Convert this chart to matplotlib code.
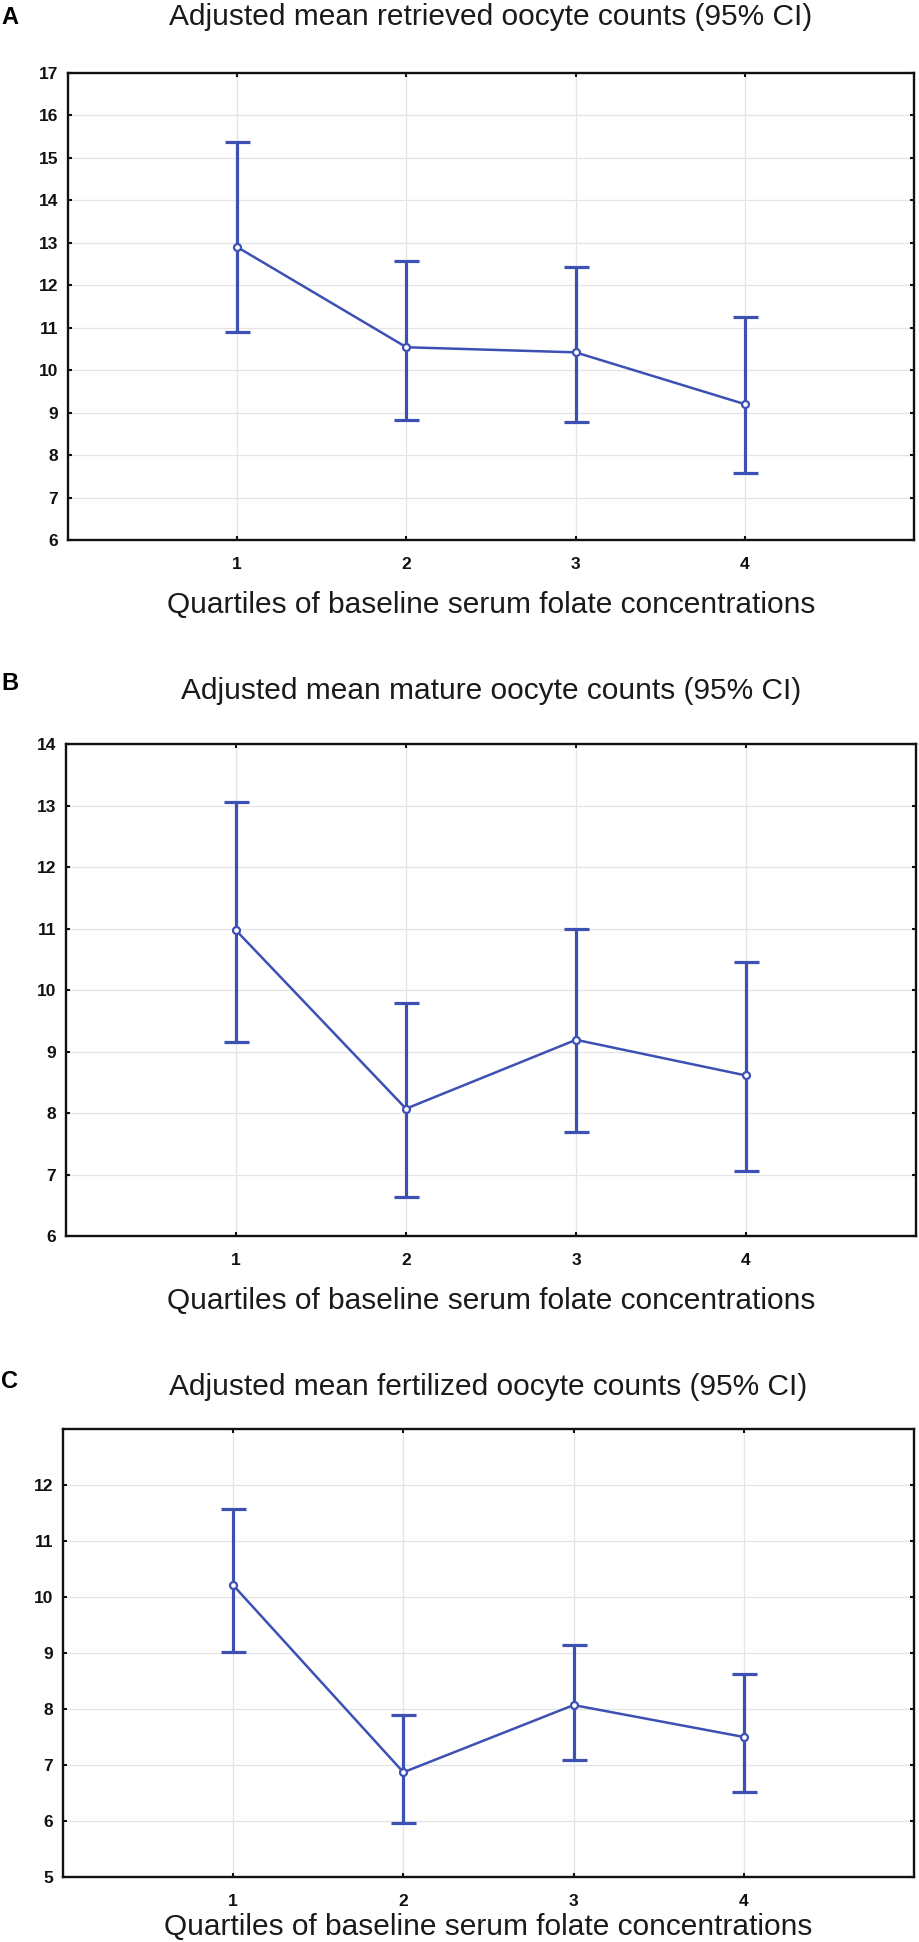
import numpy as np
import matplotlib
matplotlib.use("Agg")
import matplotlib.pyplot as plt

# quartile groups on the x axis
quartiles = [1, 2, 3, 4]

# A - retrieved oocytes: mean and 95% CI
a_mean = [12.9, 10.54, 10.42, 9.2]
a_low = [10.89, 8.82, 8.78, 7.58]
a_high = [15.37, 12.57, 12.42, 11.25]

# B - mature oocytes
b_mean = [10.97, 8.07, 9.19, 8.61]
b_low = [9.16, 6.64, 7.69, 7.06]
b_high = [13.05, 9.79, 10.99, 10.46]

# C - fertilized oocytes
c_mean = [10.21, 6.87, 8.07, 7.5]
c_low = [9.02, 5.97, 7.09, 6.51]
c_high = [11.57, 7.89, 9.15, 8.62]

titles = ["Adjusted mean retrieved oocyte counts (95% CI)",
          "Adjusted mean mature oocyte counts (95% CI)",
          "Adjusted mean fertilized oocyte counts (95% CI)"]
panel_letters = ["A", "B", "C"]
xlab = "Quartiles of baseline serum folate concentrations"

W, H = 920, 1942
BLUE = "#3d50b4"

fig = plt.figure(figsize=(W / 100, H / 100), dpi=100)
fig.patch.set_facecolor("white")


def px_axes(left, top, right, bottom):
    return fig.add_axes([left / W, 1 - bottom / H, (right - left) / W, (bottom - top) / H])


def draw_panel(ax, mean, low, high, ylim, yticks):
    mean = np.array(mean)
    err = [mean - np.array(low), np.array(high) - mean]
    ax.errorbar(quartiles, mean, yerr=err, fmt="none", ecolor=BLUE,
                elinewidth=2.3, capsize=9, capthick=2.3, zorder=3)
    ax.plot(quartiles, mean, color=BLUE, lw=1.8, marker="o", ms=5,
            mfc="white", mec=BLUE, mew=1.6, zorder=4)
    ax.set_xlim(0, 5)
    ax.set_ylim(*ylim)
    ax.set_xticks(quartiles)
    ax.set_yticks(yticks)
    ax.grid(True, color="#e4e4e4", lw=0.9, zorder=0)
    ax.set_axisbelow(True)
    for s in ax.spines.values():
        s.set_linewidth(1.7)
        s.set_color("#111111")
    ax.tick_params(direction="in", length=3, width=1.5, top=True, right=True,
                   labelsize=12.5, colors="#111111")
    ax.tick_params(axis="y", pad=7)
    ax.tick_params(axis="x", pad=12)
    for lab in ax.get_xticklabels() + ax.get_yticklabels():
        lab.set_fontweight("bold")
        lab.set_family("Liberation Sans")


# axes boxes in pixels: left, top, right, bottom
boxes = [(68, 73, 914, 540), (66, 744, 916, 1236), (63, 1429, 914, 1877)]
title_base = [25, 699, 1395]
xlab_base = [613, 1309, 1935]
letter_base = [24, 690, 1388]

data = [(a_mean, a_low, a_high, (6, 17), range(6, 18)),
        (b_mean, b_low, b_high, (6, 14), range(6, 15)),
        (c_mean, c_low, c_high, (5, 13), range(5, 13))]

for i in range(3):
    l, t, r, b = boxes[i]
    ax = px_axes(l, t, r, b)
    m, lo, hi, yl, yt = data[i]
    draw_panel(ax, m, lo, hi, yl, yt)
    cx = (l + r) / 2 / W
    fig.text(cx, 1 - title_base[i] / H, titles[i], ha="center", va="baseline",
             fontsize=21.5, family="Liberation Sans", color="#1a1a1a")
    fig.text(cx, 1 - xlab_base[i] / H, xlab, ha="center", va="baseline",
             fontsize=21.5, family="Liberation Sans", color="#1a1a1a")
    fig.text(1 / W, 1 - letter_base[i] / H, panel_letters[i], ha="left", va="baseline",
             fontsize=17, fontweight="bold", family="Liberation Sans", color="black")

fig.savefig("out.png", dpi=100, facecolor="white")
